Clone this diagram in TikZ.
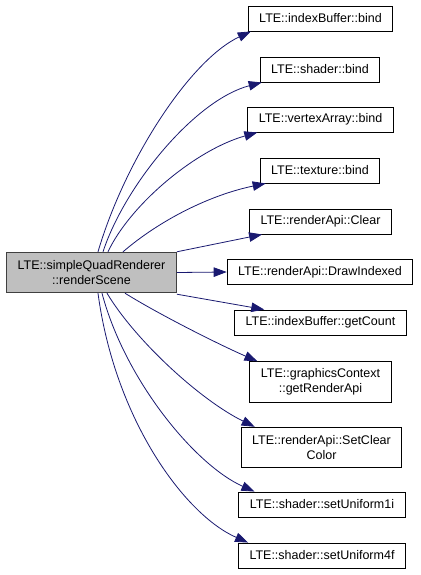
\documentclass[tikz,border=0pt]{standalone}
\usepackage{fontspec}
\setmainfont{Liberation Sans}
\usepackage{tikz}
\usetikzlibrary{arrows.meta}
\definecolor{edgeblue}{RGB}{25,25,112}
\definecolor{rootgray}{RGB}{191,191,191}

\begin{document}
\begin{tikzpicture}[
  x=1pt, y=-1pt,
  font=\fontsize{12.5}{15.5}\selectfont,
  callee/.style={draw=black, line width=0.9pt, fill=white, align=center, inner xsep=11pt, inner ysep=5pt, minimum height=25pt},
  tall/.style={minimum height=40.5pt},
  caller/.style={callee, tall, draw=black!75, fill=rootgray},
  arrow/.style={-{Triangle[length=13pt, width=9.5pt]}, edgeblue, line width=0.8pt}
]
\useasboundingbox (0,0) rectangle (420,575);
\node[caller] (render) at (91.5,272.5) {LTE::simpleQuadRenderer\\::renderScene};
\node[callee] (ibind) at (320.5,18.5) {LTE::indexBuffer::bind};
\node[callee] (sbind) at (320,69.5) {LTE::shader::bind};
\node[callee] (vbind) at (320.5,119.5) {LTE::vertexArray::bind};
\node[callee] (tbind) at (320,170.5) {LTE::texture::bind};
\node[callee] (clear) at (320.5,221.5) {LTE::renderApi::Clear};
\node[callee] (drawidx) at (320,272) {LTE::renderApi::DrawIndexed};
\node[callee] (count) at (320.5,322.5) {LTE::indexBuffer::getCount};
\node[callee, tall] (api) at (320.5,382) {LTE::graphicsContext\\::getRenderApi};
\node[callee, tall] (clearcol) at (321.5,447.5) {LTE::renderApi::SetClear\\Color};
\node[callee] (uni1i) at (322,504.5) {LTE::shader::setUniform1i};
\node[callee] (uni4f) at (322,555.5) {LTE::shader::setUniform4f};
% calls above the caller
\draw[arrow] ([xshift=6.5pt]render.north) .. controls (125,160) and (190,60) .. ([xshift=3pt]ibind.south west);
\draw[arrow] ([xshift=11.5pt]render.north) .. controls (125,185) and (195,100) .. ([xshift=2pt]sbind.south west);
\draw[arrow] ([xshift=16.5pt]render.north) .. controls (130,205) and (195,150) .. ([xshift=10pt]vbind.south west);
\draw[arrow] ([xshift=31.5pt]render.north) .. controls (160,220) and (210,195) .. ([xshift=6pt]tbind.south west);
\draw[arrow] (render.north east) -- ([xshift=13pt]clear.south west);
\draw[arrow] (render.east) -- (drawidx.west);
% calls below the caller
\draw[arrow] ([yshift=-1pt]render.south east) -- ([xshift=30pt]count.north west);
\draw[arrow] ([xshift=33.5pt]render.south) .. controls (160,315) and (220,345) .. ([xshift=8pt]api.north west);
\draw[arrow] ([xshift=15.5pt]render.south) .. controls (135,340) and (200,400) .. ([xshift=14pt]clearcol.north west);
\draw[arrow] ([xshift=10.5pt]render.south) .. controls (125,380) and (195,465) .. ([xshift=16pt]uni1i.north west);
\draw[arrow] ([xshift=6.5pt]render.south) .. controls (115,420) and (185,515) .. ([xshift=10pt]uni4f.north west);
\end{tikzpicture}
\end{document}
